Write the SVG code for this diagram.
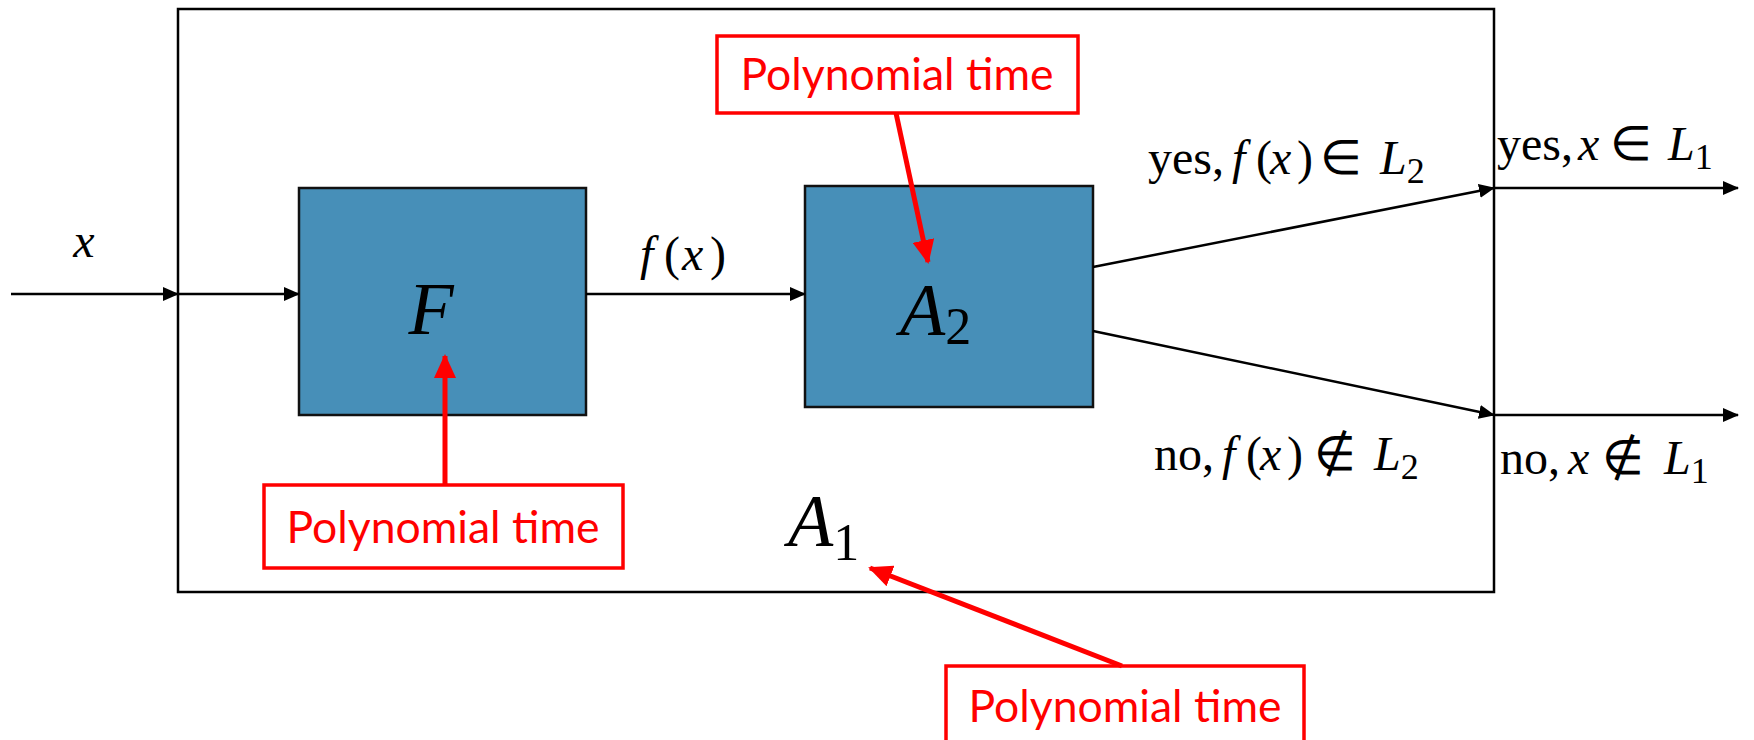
<svg xmlns="http://www.w3.org/2000/svg" width="1754" height="740" viewBox="0 0 1754 740">
<style>
.blk{stroke:#000;stroke-width:2.5;fill:none}
.box{fill:#478FB8;stroke:#111;stroke-width:2.5}
.red{stroke:#FF0000;stroke-width:5;fill:none}
.rbox{fill:#fff;stroke:#FF0000;stroke-width:3.5}
.rt{font-family:Lato,"Open Sans",sans-serif;font-size:45px;fill:#FF0000;text-anchor:middle}
.m{font-family:"Liberation Serif",serif;font-size:48px;fill:#000}
.i{font-style:italic}
.big{font-family:"Liberation Serif",serif;font-size:74px;font-style:italic;fill:#000}
.sub{font-family:"Liberation Serif",serif;font-size:52px;font-style:normal}
.ls{font-size:36px;font-style:normal}
</style>
<defs>
<marker id="ah" markerWidth="16" markerHeight="14" refX="15" refY="7" orient="auto" markerUnits="userSpaceOnUse">
<path d="M0,0 L16,7 L0,14 Z" fill="#000"/>
</marker>
<marker id="rh" markerWidth="24" markerHeight="22" refX="22" refY="11" orient="auto" markerUnits="userSpaceOnUse">
<path d="M0,0 L24,11 L0,22 Z" fill="#FF0000"/>
</marker>
</defs>

<g id="outer">
<rect x="178" y="9" width="1316" height="583" class="blk"/>
<text class="big" x="788" y="546">A<tspan class="sub" dy="14">1</tspan></text>
</g>

<g id="F">
<rect class="box" x="299" y="188" width="287" height="227"/>
<text class="big" x="431" y="334" text-anchor="middle">F</text>
</g>

<g id="A2">
<rect class="box" x="805" y="186" width="288" height="221"/>
<text class="big" x="900" y="335">A<tspan class="sub" dy="9">2</tspan></text>
</g>

<g id="poly-top">
<rect class="rbox" x="717" y="36" width="361" height="77"/>
<text class="rt" x="897" y="90" textLength="313" lengthAdjust="spacingAndGlyphs">Polynomial time</text>
</g>
<g id="poly-left">
<rect class="rbox" x="264" y="485" width="359" height="83"/>
<text class="rt" x="443" y="543" textLength="313" lengthAdjust="spacingAndGlyphs">Polynomial time</text>
</g>
<g id="poly-bottom">
<rect class="rbox" x="946" y="666" width="358" height="90"/>
<text class="rt" x="1125" y="722" textLength="313" lengthAdjust="spacingAndGlyphs">Polynomial time</text>
</g>

<g id="connectors">
<line class="blk" x1="11" y1="294" x2="178" y2="294" marker-end="url(#ah)"/>
<line class="blk" x1="178" y1="294" x2="299" y2="294" marker-end="url(#ah)"/>
<line class="blk" x1="586" y1="294" x2="805" y2="294" marker-end="url(#ah)"/>
<line class="blk" x1="1093" y1="267" x2="1494" y2="188" marker-end="url(#ah)"/>
<line class="blk" x1="1093" y1="331" x2="1494" y2="415" marker-end="url(#ah)"/>
<line class="blk" x1="1494" y1="188" x2="1738" y2="188" marker-end="url(#ah)"/>
<line class="blk" x1="1494" y1="415" x2="1738" y2="415" marker-end="url(#ah)"/>
<line class="red" x1="445" y1="485" x2="445" y2="356" marker-end="url(#rh)"/>
<line class="red" x1="896" y1="113" x2="928" y2="262" marker-end="url(#rh)"/>
<line class="red" x1="1122" y1="666" x2="870" y2="568" marker-end="url(#rh)"/>
</g>

<g id="labels">
<text class="m i" x="84" y="257" text-anchor="middle" font-size="52">x</text>
<text class="m" y="270"><tspan class="i" x="640">f</tspan><tspan x="664">(</tspan><tspan class="i" x="682">x</tspan><tspan x="710">)</tspan></text>
<text class="m" y="174"><tspan x="1148">yes,</tspan><tspan class="i" x="1232">f</tspan><tspan x="1256">(</tspan><tspan class="i" x="1270">x</tspan><tspan x="1297">)</tspan><tspan x="1320">∈</tspan><tspan class="i" x="1380">L</tspan><tspan class="ls" dy="9">2</tspan></text>
<text class="m" y="160" font-size="46"><tspan x="1497">yes,</tspan><tspan class="i" x="1578">x</tspan><tspan x="1610">∈</tspan><tspan class="i" x="1668">L</tspan><tspan class="ls" dy="9">1</tspan></text>
<text class="m" y="470"><tspan x="1154">no,</tspan><tspan class="i" x="1222">f</tspan><tspan x="1246">(</tspan><tspan class="i" x="1260">x</tspan><tspan x="1287">)</tspan><tspan x="1314">∉</tspan><tspan class="i" x="1374">L</tspan><tspan class="ls" dy="9">2</tspan></text>
<text class="m" y="474" font-size="46"><tspan x="1500">no,</tspan><tspan class="i" x="1568">x</tspan><tspan x="1602">∉</tspan><tspan class="i" x="1664">L</tspan><tspan class="ls" dy="9">1</tspan></text>
</g>
</svg>
